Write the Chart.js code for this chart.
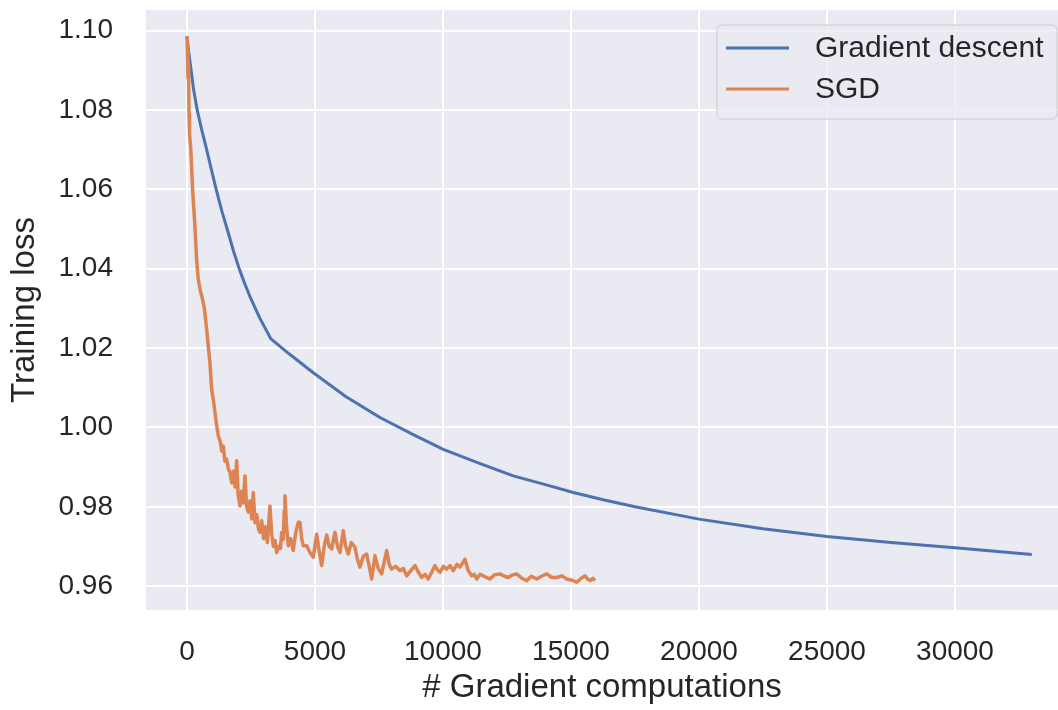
<!DOCTYPE html>
<html>
<head>
<meta charset="utf-8">
<script src="https://cdn.jsdelivr.net/npm/chart.js@4.4.1/dist/chart.umd.min.js"></script>
<style>
  body { margin: 0; background: #ffffff; }
  #wrap { width: 1058px; height: 710px; position: relative; }
</style>
</head>
<body>
<div id="wrap"><canvas id="lossChart"></canvas></div>
<script>
    // ==================== DATA ====================
    const xTicks = [0, 5000, 10000, 15000, 20000, 25000, 30000];
    const yTicks = [0.96, 0.98, 1.00, 1.02, 1.04, 1.06, 1.08, 1.10];

    // Gradient descent
    const gdSteps = [0, 60, 144, 260, 403, 570, 770, 950, 1133, 1370, 1615, 1820, 2031, 2240, 2461, 2850, 3270, 4000, 4935, 6200, 7540, 8800, 10012, 11400, 12746, 14000, 15090, 16300, 17500, 20000, 22500, 25000, 27500, 30000, 33000];
    const gdLoss = [1.0986, 1.0950, 1.0909, 1.0851, 1.0799, 1.0752, 1.0700, 1.0651, 1.0602, 1.0544, 1.0490, 1.0444, 1.0402, 1.0365, 1.0330, 1.0275, 1.0224, 1.0185, 1.0138, 1.0078, 1.0025, 0.9983, 0.9945, 0.9910, 0.9878, 0.9856, 0.9836, 0.9817, 0.9800, 0.9769, 0.9745, 0.9725, 0.9710, 0.9697, 0.9680];

    // SGD
    const sgdSteps = [0, 20, 40, 60, 80, 100, 150, 222, 312, 380, 443, 520, 600, 680, 770, 840, 898, 964, 1030, 1094, 1160, 1223, 1300, 1360, 1418, 1480, 1551, 1620, 1680, 1750, 1820, 1880, 1941, 2000, 2070, 2140, 2200, 2266, 2330, 2395, 2460, 2530, 2590, 2660, 2730, 2790, 2852, 2920, 2990, 3060, 3140, 3242, 3310, 3380, 3440, 3504, 3580, 3650, 3700, 3762, 3800, 3828, 3880, 3957, 4050, 4150, 4250, 4348, 4414, 4480, 4543, 4676, 4805, 4934, 5066, 5160, 5262, 5360, 5457, 5560, 5652, 5781, 5880, 5977, 6106, 6200, 6301, 6420, 6563, 6650, 6758, 6880, 7020, 7120, 7215, 7344, 7470, 7605, 7700, 7801, 7900, 7996, 8150, 8320, 8450, 8582, 8750, 8906, 9040, 9168, 9300, 9426, 9560, 9688, 9800, 9883, 10020, 10145, 10280, 10402, 10550, 10664, 10780, 10859, 10980, 11121, 11220, 11316, 11450, 11574, 11700, 11836, 12000, 12227, 12400, 12551, 12700, 12879, 13080, 13270, 13450, 13660, 13850, 14051, 14250, 14441, 14650, 14832, 15050, 15223, 15400, 15547, 15650, 15742, 15860, 15938];
    const sgdLoss = [1.0986, 1.0950, 1.0880, 1.0920, 1.0790, 1.0740, 1.0700, 1.0599, 1.0507, 1.0420, 1.0373, 1.0345, 1.0325, 1.0300, 1.0247, 1.0200, 1.0163, 1.0096, 1.0070, 1.0038, 1.0005, 0.9979, 0.9965, 0.9940, 0.9953, 0.9915, 0.9920, 0.9895, 0.9887, 0.9860, 0.9890, 0.9850, 0.9916, 0.9830, 0.9802, 0.9840, 0.9810, 0.9878, 0.9800, 0.9787, 0.9815, 0.9770, 0.9836, 0.9760, 0.9780, 0.9745, 0.9736, 0.9765, 0.9720, 0.9750, 0.9710, 0.9802, 0.9730, 0.9700, 0.9715, 0.9685, 0.9700, 0.9695, 0.9735, 0.9718, 0.9790, 0.9828, 0.9760, 0.9702, 0.9720, 0.9690, 0.9735, 0.9761, 0.9761, 0.9720, 0.9702, 0.9702, 0.9685, 0.9673, 0.9731, 0.9690, 0.9652, 0.9700, 0.9729, 0.9700, 0.9694, 0.9736, 0.9700, 0.9685, 0.9740, 0.9700, 0.9681, 0.9710, 0.9698, 0.9670, 0.9648, 0.9675, 0.9681, 0.9650, 0.9618, 0.9677, 0.9645, 0.9631, 0.9660, 0.9690, 0.9655, 0.9643, 0.9650, 0.9639, 0.9645, 0.9626, 0.9640, 0.9652, 0.9635, 0.9622, 0.9630, 0.9618, 0.9635, 0.9652, 0.9640, 0.9635, 0.9650, 0.9643, 0.9652, 0.9639, 0.9655, 0.9648, 0.9660, 0.9668, 0.9640, 0.9626, 0.9630, 0.9618, 0.9630, 0.9626, 0.9622, 0.9618, 0.9628, 0.9631, 0.9625, 0.9622, 0.9628, 0.9631, 0.9620, 0.9614, 0.9625, 0.9618, 0.9625, 0.9631, 0.9622, 0.9622, 0.9626, 0.9618, 0.9615, 0.9610, 0.9620, 0.9626, 0.9618, 0.9614, 0.9620, 0.9614];

    const textColor = '#262626';
    const fontFamily = '"Liberation Sans", Arial, Helvetica, sans-serif';

    // Build {x, y} points from the arrays
    function toPoints(xs, ys) {
        return xs.map((x, i) => ({ x: x, y: ys[i] }));
    }

    // Plot background (seaborn darkgrid)
    const plotBackground = {
        id: 'plotBackground',
        beforeDraw(chart) {
            const { ctx, chartArea: a } = chart;
            ctx.save();
            ctx.fillStyle = '#EAEAF2';
            ctx.fillRect(a.left, a.top, a.right - a.left, a.bottom - a.top);
            ctx.restore();
        }
    };

    // Legend box in the upper right, matplotlib style
    const insideLegend = {
        id: 'insideLegend',
        afterDraw(chart) {
            const ctx = chart.ctx;
            const box = { x: 717, y: 25, w: 340, h: 94, r: 5 };
            ctx.save();
            ctx.beginPath();
            ctx.roundRect(box.x, box.y, box.w, box.h, box.r);
            ctx.fillStyle = 'rgba(234,234,242,0.8)';
            ctx.fill();
            ctx.lineWidth = 1;
            ctx.strokeStyle = '#cccccc';
            ctx.stroke();
            ctx.font = '30px ' + fontFamily;
            ctx.textBaseline = 'middle';
            ctx.fillStyle = textColor;
            chart.data.datasets.forEach((ds, i) => {
                const y = 48 + i * 41;
                ctx.beginPath();
                ctx.moveTo(726, y);
                ctx.lineTo(789, y);
                ctx.strokeStyle = ds.borderColor;
                ctx.lineWidth = 3;
                ctx.stroke();
                ctx.fillText(ds.label, 815, y + 1);
            });
            ctx.restore();
        }
    };

    new Chart(document.getElementById('lossChart'), {
        type: 'line',
        data: {
            datasets: [
                { label: 'Gradient descent', data: toPoints(gdSteps, gdLoss), borderColor: '#4C72B0', borderWidth: 3, pointRadius: 0, tension: 0, order: 1 },
                { label: 'SGD', data: toPoints(sgdSteps, sgdLoss), borderColor: '#DD8452', borderWidth: 3.5, pointRadius: 0, tension: 0, order: 0 }
            ]
        },
        options: {
            responsive: true,
            maintainAspectRatio: false,
            animation: false,
            layout: { padding: { top: 10, right: 0, bottom: 0, left: 0 } },
            plugins: { legend: { display: false }, tooltip: { enabled: false } },
            elements: { line: { borderJoinStyle: 'round', borderCapStyle: 'butt' } },
            scales: {
                x: {
                    type: 'linear',
                    min: -1600,
                    max: 34023,
                    afterBuildTicks: s => { s.ticks = xTicks.map(v => ({ value: v })); },
                    afterFit: s => { s.height = 100; s.paddingLeft = 0; s.paddingRight = 0; },
                    grid: { color: '#ffffff', lineWidth: 2, drawTicks: false },
                    border: { display: false },
                    ticks: { padding: 25, color: textColor, font: { size: 28, family: fontFamily }, maxRotation: 0, callback: v => String(v) },
                    title: { display: true, text: '# Gradient computations', color: textColor, font: { size: 33, family: fontFamily }, padding: { top: 0, bottom: 2 } }
                },
                y: {
                    min: 0.954,
                    max: 1.1052,
                    afterBuildTicks: s => { s.ticks = yTicks.map(v => ({ value: v })); },
                    afterFit: s => { s.width = 146; s.paddingTop = 0; s.paddingBottom = 0; },
                    grid: { color: '#ffffff', lineWidth: 2, drawTicks: false },
                    border: { display: false },
                    ticks: { padding: 33, color: textColor, font: { size: 28, family: fontFamily }, callback: v => v.toFixed(2) },
                    title: { display: true, text: 'Training loss', color: textColor, font: { size: 33, family: fontFamily }, padding: { top: 5, bottom: 0 } }
                }
            }
        },
        plugins: [plotBackground, insideLegend]
    });
</script>
</body>
</html>
